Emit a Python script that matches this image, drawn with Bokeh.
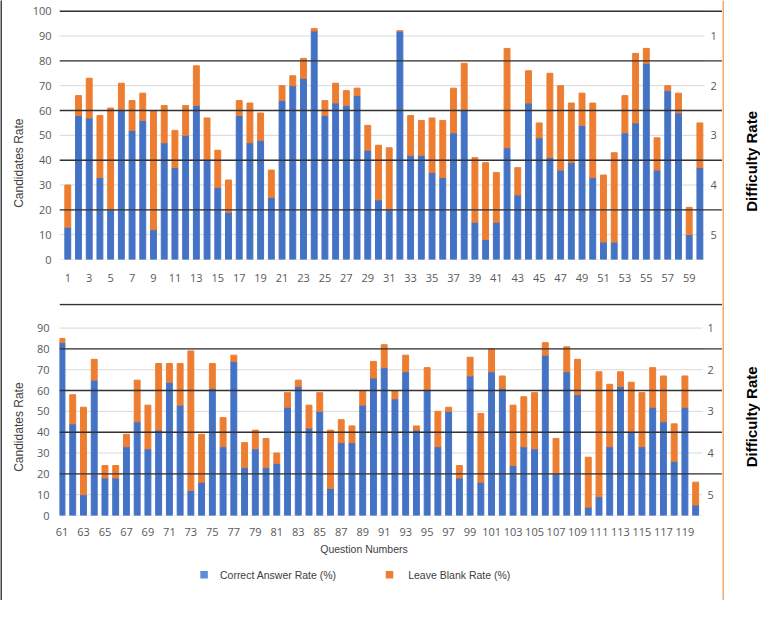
import math
from bokeh.plotting import figure
from bokeh.models import ColumnDataSource, FixedTicker, LinearAxis, Range1d
from bokeh.layouts import column, row
from bokeh.core.properties import value
from bokeh.embed import file_html
from bokeh.resources import INLINE

# ---------------- data ----------------
q_top = list(range(1, 61))
correct_top = [13, 58, 57, 33, 20, 60, 52, 56, 12, 47, 37, 50, 62, 40, 29, 19, 58, 47, 48, 25,
               64, 70, 73, 92, 58, 63, 62, 66, 44, 24, 20, 92, 42, 42, 35, 33, 51, 60, 15, 8,
               15, 45, 26, 63, 49, 41, 36, 39, 54, 33, 7, 7, 51, 55, 79, 36, 68, 59, 10, 37]
blank_top = [17, 8, 16, 25, 41, 11, 12, 11, 48, 15, 15, 12, 16, 17, 15, 13, 6, 16, 11, 11,
             6, 4, 8, 1, 6, 8, 6, 3, 10, 22, 25, 0, 16, 14, 22, 23, 18, 19, 26, 31,
             20, 40, 11, 13, 6, 34, 34, 24, 13, 30, 27, 36, 15, 28, 6, 13, 2, 8, 11, 18]

q_bot = list(range(61, 121))
correct_bot = [83, 44, 10, 65, 18, 18, 33, 45, 32, 41, 64, 53, 12, 16, 61, 33, 74, 23, 32, 23,
               25, 52, 62, 42, 50, 13, 35, 35, 53, 66, 71, 56, 69, 41, 60, 33, 50, 18, 67, 16,
               69, 61, 24, 33, 32, 77, 20, 69, 58, 4, 9, 33, 62, 40, 33, 52, 45, 26, 52, 5]
blank_bot = [2, 14, 42, 10, 6, 6, 6, 20, 21, 32, 9, 20, 67, 23, 12, 14, 3, 12, 9, 14,
             5, 7, 3, 11, 9, 28, 11, 8, 7, 8, 11, 4, 8, 2, 11, 17, 2, 6, 9, 33,
             11, 6, 29, 24, 27, 6, 17, 12, 17, 24, 60, 30, 7, 24, 26, 19, 22, 18, 15, 11]

y_ticks_top = list(range(0, 101, 10))
y_ticks_bot = list(range(0, 91, 10))
x_ticks_top = list(range(1, 60, 2))
x_ticks_bot = list(range(61, 120, 2))
difficulty_levels = [90, 70, 50, 30, 10]
difficulty_labels = ["1", "2", "3", "4", "5"]
band_lines_top = [20, 40, 60, 80, 100]
band_lines_bot = [20, 40, 60, 80, 101.3]
series_names = ["Correct Answer Rate (%)", "Leave Blank Rate (%)"]
y_title = "Candidates Rate"
x_title = "Question Numbers"
r_title = "Difficulty Rate"

BLUE = "#4472C4"
ORANGE = "#ED7D31"
series_colors = [BLUE, ORANGE]
legend_colors = ["#5B8ED6", ORANGE]
FRAME_ORANGE = "#F0AA70"
BORDER = "#444444"
DARK = "#333333"
GRID = "#D9D9D9"
TICK = "#595959"
NUM_FONT = "Open Sans"
TXT_FONT = "Liberation Sans"

MID_W = 720
FRAME_L = 56


def solid(w, h, color):
    f = figure(width=w, height=h, toolbar_location=None, output_backend="svg",
               x_axis_location=None, y_axis_location=None, min_border=0,
               outline_line_color=None, background_fill_color=color, border_fill_color=color)
    f.grid.visible = False
    return f


def bare_axis(ax, std, font, size, color):
    ax.axis_line_color = None
    ax.major_tick_line_color = None
    ax.minor_tick_line_color = None
    ax.major_tick_out = 0
    ax.major_tick_in = 0
    ax.major_label_standoff = std
    ax.major_label_text_font = font
    ax.major_label_text_font_size = size
    ax.major_label_text_color = color


def panel(q, correct, blank, xr, yr, H, mb_bottom, yticks, xticks, grid_end, bands, lab_x,
          y_std, x_std, ytitle_y, ytitle_std):
    p = figure(width=MID_W, height=H, x_range=Range1d(*xr), y_range=Range1d(*yr),
               output_backend="svg", toolbar_location=None,
               min_border_left=FRAME_L, min_border_right=0,
               min_border_top=0, min_border_bottom=mb_bottom)
    p.outline_line_color = None
    p.background_fill_color = "white"
    p.border_fill_color = "white"
    p.grid.visible = False

    # light gridlines (end before the difficulty labels)
    p.segment(x0=[xr[0]] * len(yticks), x1=[grid_end] * len(yticks), y0=yticks, y1=yticks,
              line_color=GRID, line_width=1)

    src = ColumnDataSource(dict(q=q, correct=correct, blank=blank))
    p.vbar_stack(["correct", "blank"], x="q", width=0.55, color=series_colors, source=src)

    # dark difficulty band lines (over the bars, up to the orange border)
    p.segment(x0=[xr[0]] * len(bands), x1=[xr[1]] * len(bands), y0=bands, y1=bands,
              line_color=DARK, line_width=1.4)

    # difficulty level labels on the right
    p.text(x=[lab_x] * len(difficulty_levels), y=difficulty_levels, text=difficulty_labels,
           text_align="left", text_baseline="middle", text_font=value(NUM_FONT),
           text_font_size="11px", text_color=TICK)

    ya = p.yaxis[0]
    ya.ticker = FixedTicker(ticks=yticks)
    bare_axis(ya, y_std, NUM_FONT, "11px", TICK)

    xa = p.xaxis[0]
    xa.ticker = FixedTicker(ticks=xticks)
    bare_axis(xa, x_std, NUM_FONT, "11px", TICK)

    ta = LinearAxis(ticker=FixedTicker(ticks=[ytitle_y]),
                    major_label_overrides={ytitle_y: y_title},
                    major_label_orientation=math.pi / 2)
    bare_axis(ta, ytitle_std, TXT_FONT, "12px", "#404040")
    p.add_layout(ta, "left")
    return p


# ---------------- top panel ----------------
top = panel(q_top, correct_top, blank_top, (0.2265, 62.11), (0, 103.5), 299, 42,
            y_ticks_top, x_ticks_top, 60.43, band_lines_top, 60.99,
            8, 14, 56.8, 10)

# ---------------- bottom panel ----------------
bot = panel(q_bot, correct_bot, blank_bot, (60.768, 122.50), (0, 101.8), 258, 46,
            y_ticks_bot, x_ticks_bot, 120.64, band_lines_bot, 121.10,
            10, 12, 63.9, 14)
xt_pos = 89.12
xta = LinearAxis(ticker=FixedTicker(ticks=[xt_pos]), major_label_overrides={xt_pos: x_title})
bare_axis(xta, 4, TXT_FONT, "10.5px", "#404040")
bot.add_layout(xta, "below")

# ---------------- legend strip (frame aligned with the panels above) ----------------
SH = 37
strip = figure(width=MID_W, height=SH, x_range=Range1d(FRAME_L, MID_W), y_range=Range1d(0, SH),
               toolbar_location=None, output_backend="svg",
               x_axis_location=None, y_axis_location=None,
               min_border_left=FRAME_L, min_border_right=0, min_border_top=0,
               min_border_bottom=0, outline_line_color=None)
strip.grid.visible = False
leg_y = 23.7
strip.scatter(x=[200.8, 386.5], y=[leg_y, leg_y], marker="square", size=7.5,
              color=legend_colors, line_color=None)
strip.text(x=[216.7, 405.2], y=[leg_y, leg_y], text=series_names, text_align="left",
           text_baseline="middle", text_font=value(TXT_FONT), text_font_size="10.5px",
           text_color="#404040")


# ---------------- difficulty titles on the far right ----------------
def dr_fig(h, yc):
    f = figure(width=36, height=h, x_range=Range1d(0, 36), y_range=Range1d(0, h),
               toolbar_location=None, output_backend="svg",
               x_axis_location=None, y_axis_location=None, min_border=0,
               outline_line_color=None)
    f.grid.visible = False
    f.text(x=[27], y=[h - yc], text=[r_title], angle=math.pi / 2,
           text_align="center", text_baseline="middle", text_font=value(TXT_FONT),
           text_font_size="15px", text_font_style="bold", text_color="black")
    return f


mid = column(solid(MID_W, 2, BORDER), top, solid(MID_W, 2, FRAME_ORANGE), bot, strip,
             solid(MID_W, 2, BORDER))
right = column(dr_fig(302, 160.9), dr_fig(298, 114.3))
layout = row(solid(2, 600, BORDER), mid, solid(2, 600, FRAME_ORANGE), right)

open("out.html", "w").write(file_html(layout, INLINE))
